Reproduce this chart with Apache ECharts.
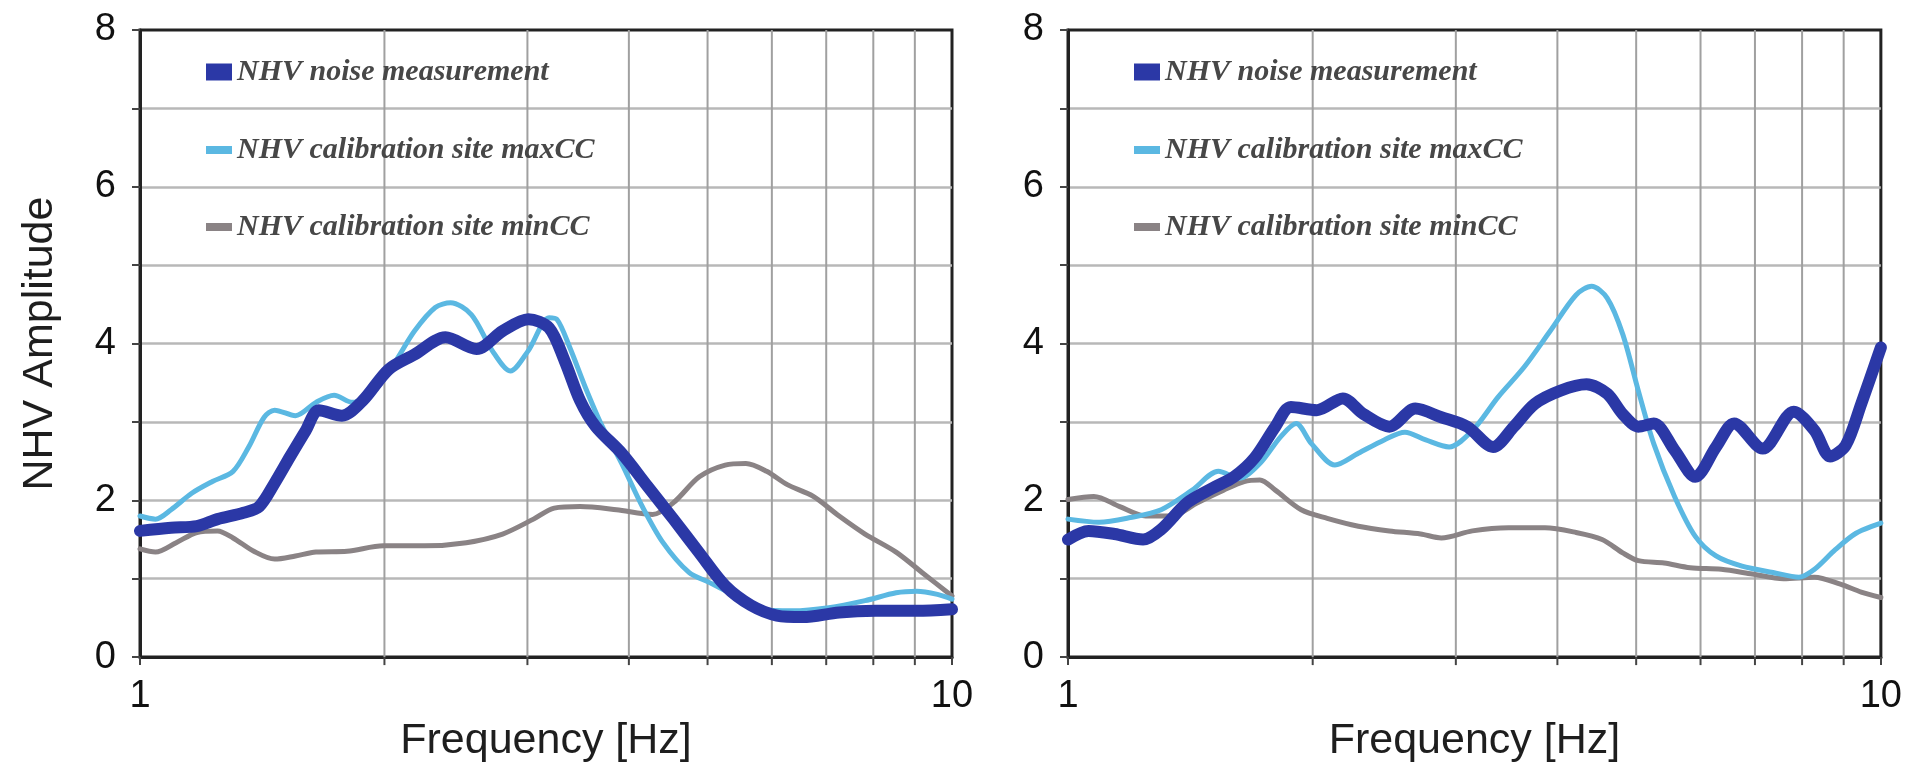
<!DOCTYPE html>
<html>
<head>
<meta charset="utf-8">
<script src="https://cdn.jsdelivr.net/npm/echarts@6/dist/echarts.min.js"></script>
<style>
  html, body { margin: 0; padding: 0; background: #ffffff; }
  #chart { width: 1905px; height: 768px; }
</style>
</head>
<body>
<div id="chart"></div>
<script>
// ---- Data: frequency (Hz) and NHV amplitude for each curve ----
const seriesNames = ['NHV noise measurement', 'NHV calibration site maxCC', 'NHV calibration site minCC'];
const yTicks = [0, 2, 4, 6, 8];
const minorHz = [2, 3, 4, 5, 6, 7, 8, 9];

// Left panel
const leftNoiseHz = [1.000,1.092,1.175,1.246,1.341,1.402,1.465,1.531,1.600,1.660,1.773,1.880,2.024,2.178,2.378,2.597,2.796,3.008,3.190,3.334,3.484,3.641,3.919,4.217,4.539,4.884,5.256,5.656,6.087,6.551,7.261,8.047,9.050,10];
const leftNoiseAmp = [1.61,1.65,1.67,1.76,1.84,1.92,2.22,2.56,2.89,3.15,3.08,3.27,3.67,3.86,4.08,3.93,4.16,4.31,4.20,3.78,3.27,2.94,2.60,2.18,1.76,1.33,0.91,0.66,0.53,0.51,0.57,0.59,0.59,0.61];

const leftMaxHz = [1.000,1.045,1.092,1.158,1.228,1.302,1.361,1.422,1.465,1.554,1.647,1.734,1.826,1.936,2.054,2.178,2.310,2.413,2.559,2.715,2.858,3.008,3.190,3.261,3.383,3.536,3.695,3.919,4.156,4.407,4.743,5.030,5.413,5.826,6.363,7.051,7.814,8.534,9.050,9.596,10];
const leftMaxAmp = [1.80,1.76,1.88,2.09,2.24,2.37,2.68,3.06,3.15,3.08,3.25,3.34,3.25,3.38,3.74,4.16,4.46,4.52,4.37,3.91,3.65,3.91,4.33,4.31,3.95,3.44,2.98,2.47,1.92,1.46,1.08,0.95,0.78,0.61,0.59,0.63,0.72,0.82,0.84,0.80,0.74];

const leftMinHz = [1.000,1.045,1.108,1.175,1.246,1.302,1.381,1.465,1.554,1.647,1.799,1.994,2.243,2.522,2.796,3.052,3.237,3.484,3.862,4.279,4.539,4.884,5.256,5.574,5.912,6.269,6.748,7.261,7.814,8.534,9.184,10];
const leftMinAmp = [1.38,1.34,1.46,1.59,1.61,1.52,1.35,1.25,1.29,1.34,1.35,1.42,1.42,1.46,1.57,1.76,1.90,1.92,1.88,1.82,1.97,2.30,2.45,2.47,2.37,2.20,2.05,1.80,1.57,1.34,1.08,0.78];

// Right panel
const rightNoiseHz = [1.000,1.060,1.141,1.237,1.302,1.402,1.509,1.600,1.696,1.799,1.880,2.024,2.178,2.310,2.485,2.675,2.879,3.098,3.334,3.536,3.750,4.036,4.344,4.606,4.813,5.030,5.256,5.574,5.912,6.269,6.600,7.155,7.814,8.287,8.660,9.050,9.458,10];
const rightNoiseAmp = [1.50,1.61,1.57,1.50,1.63,1.97,2.16,2.30,2.54,2.94,3.19,3.15,3.30,3.10,2.94,3.17,3.06,2.94,2.68,2.94,3.23,3.40,3.48,3.36,3.10,2.94,2.98,2.64,2.30,2.68,2.98,2.66,3.13,2.89,2.56,2.70,3.23,3.95];

const rightMaxHz = [1.000,1.092,1.193,1.302,1.422,1.531,1.623,1.722,1.826,1.908,1.994,2.130,2.276,2.449,2.597,2.755,2.943,3.144,3.383,3.641,3.919,4.217,4.407,4.606,4.813,5.030,5.256,5.574,5.912,6.269,6.748,7.369,7.930,8.287,8.788,9.320,10];
const rightMaxAmp = [1.76,1.72,1.78,1.88,2.13,2.37,2.28,2.47,2.81,2.98,2.72,2.45,2.60,2.77,2.87,2.77,2.68,2.89,3.32,3.70,4.16,4.62,4.73,4.58,4.12,3.40,2.72,2.05,1.54,1.29,1.16,1.08,1.02,1.12,1.37,1.58,1.71];

const rightMinHz = [1.000,1.076,1.158,1.246,1.341,1.443,1.554,1.647,1.722,1.799,1.936,2.084,2.276,2.485,2.715,2.879,3.144,3.484,3.862,4.217,4.539,4.813,5.030,5.413,5.826,6.363,6.948,7.589,8.287,8.918,9.458,10];
const rightMinAmp = [2.01,2.05,1.92,1.80,1.80,1.97,2.13,2.24,2.26,2.13,1.88,1.77,1.67,1.61,1.57,1.52,1.61,1.65,1.65,1.59,1.50,1.33,1.23,1.20,1.14,1.12,1.06,1.00,1.02,0.93,0.83,0.76];

// ---- Styling ----
const COLORS = ['#2b38a6', '#5bb8e2', '#8a8385'];
const WIDTHS = [12, 5, 5];
const ICON_H = [17, 8, 8];
const SANS = 'Liberation Sans, Arial, Helvetica, sans-serif';
const SERIF = 'Liberation Serif, Times New Roman, serif';

const panels = [
  { left: 140, width: 812, yName: 'NHV Amplitude',
    curves: [[leftNoiseHz, leftNoiseAmp], [leftMaxHz, leftMaxAmp], [leftMinHz, leftMinAmp]] },
  { left: 1068, width: 813, yName: '',
    curves: [[rightNoiseHz, rightNoiseAmp], [rightMaxHz, rightMaxAmp], [rightMinHz, rightMinAmp]] }
];
const GRID_TOP = 30, GRID_H = 632;
const legendCenters = [72, 150, 227];

const pairs = (hz, amp) => hz.map((f, i) => [f, amp[i]]);

// Vertical grid lines at 2..9 Hz plus their small outer ticks
function minorGrid(params, api) {
  const f = api.value(0);
  const top = api.coord([f, 8]);
  const bot = api.coord([f, 0]);
  return {
    type: 'group',
    children: [
      { type: 'line', shape: { x1: bot[0], y1: bot[1], x2: top[0], y2: top[1] },
        style: { stroke: '#a0a0a0', lineWidth: 2 } },
      { type: 'line', shape: { x1: bot[0], y1: bot[1], x2: bot[0], y2: bot[1] + 8 },
        style: { stroke: '#444444', lineWidth: 2 } }
    ]
  };
}

const grid = [], xAxis = [], yAxis = [], series = [], legend = [];

panels.forEach((p, k) => {
  grid.push({
    left: p.left, top: GRID_TOP, width: p.width, height: GRID_H,
    show: true, borderColor: '#222222', borderWidth: 3, backgroundColor: 'transparent'
  });
  xAxis.push({
    type: 'log', logBase: 10, min: 1, max: 10, gridIndex: k,
    name: 'Frequency [Hz]', nameLocation: 'middle', nameGap: 60,
    nameTextStyle: { fontFamily: SANS, fontSize: 43, color: '#1e1e1e' },
    axisLine: { show: true, lineStyle: { color: '#222222', width: 3 } },
    axisTick: { show: true, length: 8, lineStyle: { color: '#444444', width: 2 } },
    axisLabel: { fontFamily: SANS, fontSize: 38, color: '#111111', margin: 20,
                 showMinLabel: true, showMaxLabel: true },
    splitLine: { show: false }
  });
  yAxis.push({
    type: 'value', min: 0, max: 8, interval: 1, gridIndex: k,
    name: p.yName, nameLocation: 'middle', nameGap: 78,
    nameTextStyle: { fontFamily: SANS, fontSize: 43, color: '#1e1e1e' },
    axisLine: { show: true, lineStyle: { color: '#222222', width: 3 } },
    axisTick: { show: true, length: 8, lineStyle: { color: '#444444', width: 2 } },
    axisLabel: { fontFamily: SANS, fontSize: 38, color: '#111111', margin: 24,
                 formatter: v => (yTicks.indexOf(v) >= 0 ? String(v) : '') },
    splitLine: { show: true, showMinLine: false, showMaxLine: false,
                 lineStyle: { color: '#b8b8b8', width: 2.5 } }
  });

  series.push({
    type: 'custom', name: 'minor grid ' + k, xAxisIndex: k, yAxisIndex: k,
    silent: true, clip: false, z: 1,
    data: minorHz.map(f => [f, 0]),
    encode: { x: 0, y: 1 },
    renderItem: minorGrid
  });

  // draw order: minCC at the bottom, noise measurement on top
  [2, 1, 0].forEach(i => {
    const [hz, amp] = p.curves[i];
    series.push({
      type: 'line', name: seriesNames[i], xAxisIndex: k, yAxisIndex: k,
      data: pairs(hz, amp), smooth: 0.3, symbol: 'none', showSymbol: false,
      z: 5 - i,
      itemStyle: { color: COLORS[i] },
      lineStyle: { color: COLORS[i], width: WIDTHS[i], cap: 'round', join: 'round' }
    });
  });

  seriesNames.forEach((name, i) => {
    legend.push({
      orient: 'vertical', left: p.left + 66, top: legendCenters[i] - 15,
      padding: 0, itemGap: 0, itemWidth: 26, itemHeight: ICON_H[i],
      selectedMode: false,
      itemStyle: { borderWidth: 0 },
      data: [{ name: name, icon: 'rect' }],
      textStyle: { fontFamily: SERIF, fontStyle: 'italic', fontWeight: 'bold', fontSize: 30,
                   lineHeight: 30, color: '#474747' }
    });
  });
});

const chart = echarts.init(document.getElementById('chart'), null, { renderer: 'canvas' });
chart.setOption({
  animation: false,
  backgroundColor: '#ffffff',
  grid, xAxis, yAxis, series, legend
});
</script>
</body>
</html>
